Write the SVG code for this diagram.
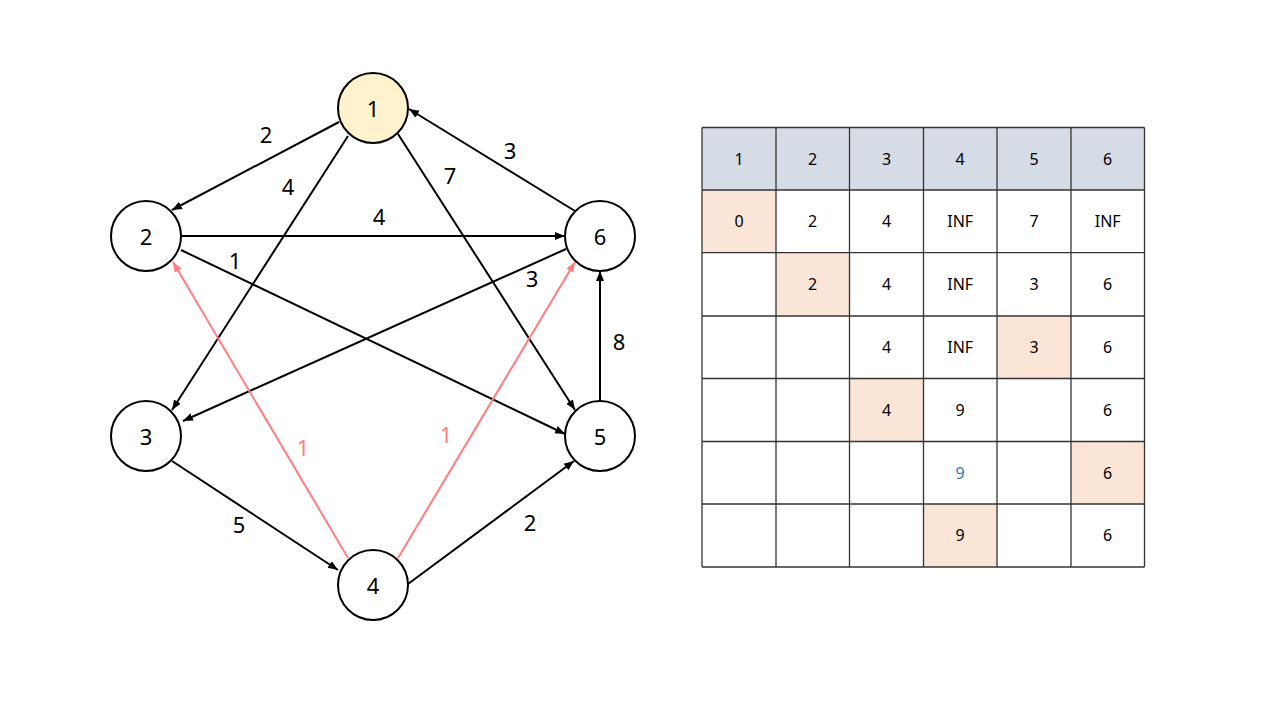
<svg xmlns="http://www.w3.org/2000/svg" width="1280" height="720" viewBox="0 0 1280 720">
<defs>
<marker id="ah" viewBox="0 0 10 10" refX="10" refY="5" markerWidth="10" markerHeight="10" markerUnits="userSpaceOnUse" orient="auto">
<path d="M0,1 L10,5 L0,9 Z" fill="#000"/>
</marker>
<marker id="ahr" viewBox="0 0 10 10" refX="10" refY="5" markerWidth="10" markerHeight="10" markerUnits="userSpaceOnUse" orient="auto">
<path d="M0,1 L10,5 L0,9 Z" fill="#FF7C80"/>
</marker>
<style>
.node circle{fill:#fff;stroke:#000;stroke-width:2}
.lbl{font-family:"Noto Sans","Noto Sans CJK KR",sans-serif;font-size:22px;fill:#000;text-anchor:middle;dominant-baseline:central}
.e{stroke:#000;stroke-width:2;fill:none;marker-end:url(#ah)}
.er{stroke:#FF7C80;stroke-width:2;fill:none;marker-end:url(#ahr)}
.red{fill:#FF7C80}
.cell{font-family:"Noto Sans","Noto Sans CJK KR",sans-serif;font-size:16px;fill:#000;text-anchor:middle;dominant-baseline:central}
.grid{stroke:#333;stroke-width:1.3}
</style>
</defs>
<rect width="1280" height="720" fill="#fff"/>

<g id="connectors">
<line class="e" x1="339" y1="122" x2="172" y2="210"/>
<line class="e" x1="348" y1="136" x2="172" y2="410"/>
<line class="e" x1="398" y1="134" x2="575" y2="410"/>
<line class="e" x1="575" y1="211" x2="409" y2="109"/>
<line class="e" x1="181" y1="236" x2="565" y2="236"/>
<line class="e" x1="181" y1="250" x2="565" y2="434"/>
<line class="e" x1="566" y1="249" x2="183" y2="421"/>
<line class="e" x1="600" y1="401" x2="600" y2="271"/>
<line class="e" x1="172" y1="461" x2="338" y2="570"/>
<line class="e" x1="408" y1="584" x2="574" y2="461"/>
<line class="er" x1="348" y1="558" x2="173" y2="262"/>
<line class="er" x1="398" y1="558" x2="575" y2="262"/>
<text class="lbl" x="266" y="134">2</text>
<text class="lbl" x="288" y="186">4</text>
<text class="lbl" x="450" y="175">7</text>
<text class="lbl" x="510" y="150">3</text>
<text class="lbl" x="379" y="216">4</text>
<text class="lbl" x="235" y="260">1</text>
<text class="lbl" x="532" y="278">3</text>
<text class="lbl" x="619" y="341">8</text>
<text class="lbl" x="239" y="524">5</text>
<text class="lbl" x="530" y="522">2</text>
<text class="lbl red" x="303" y="447">1</text>
<text class="lbl red" x="446" y="434">1</text>
</g>

<g id="node1" class="node"><circle cx="373" cy="108" r="35" style="fill:#FFF2CC"/><text class="lbl" x="373" y="108">1</text></g>
<g id="node2" class="node"><circle cx="146" cy="236" r="35"/><text class="lbl" x="146" y="236">2</text></g>
<g id="node3" class="node"><circle cx="146" cy="436" r="35"/><text class="lbl" x="146" y="436">3</text></g>
<g id="node4" class="node"><circle cx="373" cy="585" r="35"/><text class="lbl" x="373" y="585">4</text></g>
<g id="node5" class="node"><circle cx="600" cy="436" r="35"/><text class="lbl" x="600" y="436">5</text></g>
<g id="node6" class="node"><circle cx="600" cy="236" r="35"/><text class="lbl" x="600" y="236">6</text></g>

<g id="table">
<rect x="702" y="127.5" width="442.5" height="62.5" fill="#D6DCE5"/>
<rect x="702" y="190" width="74" height="62.7" fill="#FBE5D6"/>
<rect x="776" y="252.7" width="73.5" height="63.3" fill="#FBE5D6"/>
<rect x="997" y="316" width="74" height="62.5" fill="#FBE5D6"/>
<rect x="849.5" y="378.5" width="74" height="63" fill="#FBE5D6"/>
<rect x="1071" y="441.5" width="73.5" height="62.5" fill="#FBE5D6"/>
<rect x="923.5" y="504" width="73.5" height="63" fill="#FBE5D6"/>
<g class="grid">
<line x1="702" y1="127.5" x2="1144.5" y2="127.5"/>
<line x1="702" y1="190" x2="1144.5" y2="190"/>
<line x1="702" y1="252.7" x2="1144.5" y2="252.7"/>
<line x1="702" y1="316" x2="1144.5" y2="316"/>
<line x1="702" y1="378.5" x2="1144.5" y2="378.5"/>
<line x1="702" y1="441.5" x2="1144.5" y2="441.5"/>
<line x1="702" y1="504" x2="1144.5" y2="504"/>
<line x1="702" y1="567" x2="1144.5" y2="567"/>
<line x1="702" y1="127.5" x2="702" y2="567"/>
<line x1="776" y1="127.5" x2="776" y2="567"/>
<line x1="849.5" y1="127.5" x2="849.5" y2="567"/>
<line x1="923.5" y1="127.5" x2="923.5" y2="567"/>
<line x1="997" y1="127.5" x2="997" y2="567"/>
<line x1="1071" y1="127.5" x2="1071" y2="567"/>
<line x1="1144.5" y1="127.5" x2="1144.5" y2="567"/>
</g>
<text class="cell" x="739" y="159">1</text>
<text class="cell" x="812.7" y="159">2</text>
<text class="cell" x="886.5" y="159">3</text>
<text class="cell" x="960.2" y="159">4</text>
<text class="cell" x="1034" y="159">5</text>
<text class="cell" x="1107.7" y="159">6</text>

<text class="cell" x="739" y="221">0</text>
<text class="cell" x="812.7" y="221">2</text>
<text class="cell" x="886.5" y="221">4</text>
<text class="cell" x="960.2" y="221">INF</text>
<text class="cell" x="1034" y="221">7</text>
<text class="cell" x="1107.7" y="221">INF</text>

<text class="cell" x="812.7" y="284">2</text>
<text class="cell" x="886.5" y="284">4</text>
<text class="cell" x="960.2" y="284">INF</text>
<text class="cell" x="1034" y="284">3</text>
<text class="cell" x="1107.7" y="284">6</text>

<text class="cell" x="886.5" y="347">4</text>
<text class="cell" x="960.2" y="347">INF</text>
<text class="cell" x="1034" y="347">3</text>
<text class="cell" x="1107.7" y="347">6</text>

<text class="cell" x="886.5" y="410">4</text>
<text class="cell" x="960.2" y="410">9</text>
<text class="cell" x="1107.7" y="410">6</text>

<text class="cell" x="960.2" y="473" style="fill:#2E75B6">9</text>
<text class="cell" x="1107.7" y="473">6</text>

<text class="cell" x="960.2" y="535">9</text>
<text class="cell" x="1107.7" y="535">6</text>
</g>
</svg>
